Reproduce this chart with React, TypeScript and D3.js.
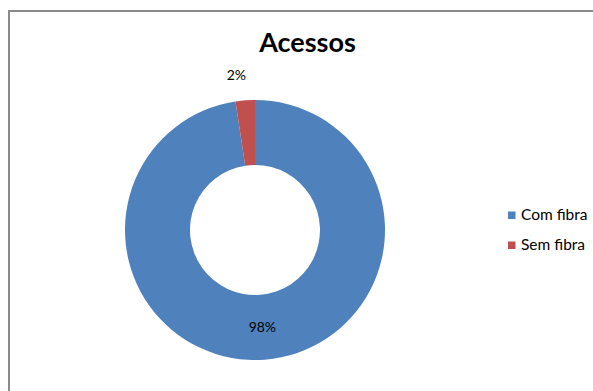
import React from "react";
import * as d3 from "d3";

const title = "Acessos";
const categories = ["Com fibra", "Sem fibra"];
const values = [97.6, 2.4];
const labels = ["98%", "2%"];
const colors = ["#4F81BD", "#C0504D"];

const W = 593;
const H = 391;
const cx = 255;
const cy = 230;
const outerR = 130;
const innerR = 65;

export default function App() {
  const pie = d3.pie<number>().sort(null).value((d) => d)(values);
  const arc = d3.arc<d3.PieArcDatum<number>>().innerRadius(innerR).outerRadius(outerR);
  const outArc = d3.arc<d3.PieArcDatum<number>>().innerRadius(155).outerRadius(155);
  const legendY = d3.scalePoint<string>().domain(categories).range([215, 245]);
  const font = "Lato, Carlito, Calibri, sans-serif";

  return (
    <svg width={W} height={H} style={{ position: "absolute", left: 0, top: 0, display: "block", background: "#fff" }}>
      <rect x={9} y={11} width={W + 20} height={H + 20} fill="#fff" stroke="#8a8a8a" strokeWidth={2} />
      <text x={307.5} y={52} textAnchor="middle" fontFamily={font} fontWeight="bold" fontSize={27} fill="#000">
        {title}
      </text>
      <g transform={`translate(${cx},${cy})`}>
        {pie.map((p, i) => (
          <path key={i} d={arc(p) || ""} fill={colors[i]} />
        ))}
        {pie.map((p, i) => {
          const [x, y] = i === 0 ? arc.centroid(p) : outArc.centroid(p);
          const dx = i === 0 ? 0 : -7;
          return (
            <text key={"l" + i} x={x + dx} y={y} dy="0.35em" textAnchor="middle" fontFamily={font} fontSize={14} fill="#000">
              {labels[i]}
            </text>
          );
        })}
      </g>
      {categories.map((c, i) => (
        <g key={c}>
          <rect x={508} y={(legendY(c) as number) - 3.5} width={7.5} height={7.5} fill={colors[i]} />
          <text x={521} y={legendY(c) as number} dy="0.35em" fontFamily={font} fontSize={15.5} fill="#000">
            {c}
          </text>
        </g>
      ))}
    </svg>
  );
}
